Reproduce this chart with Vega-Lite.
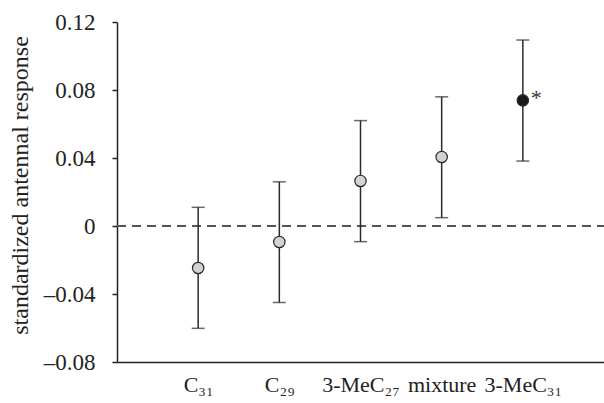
{
  "$schema": "https://vega.github.io/schema/vega-lite/v6.json",
  "width": 487,
  "height": 340,
  "autosize": {"type": "none"},
  "padding": {"left": 117, "top": 22, "right": 0, "bottom": 41},
  "background": "white",
  "config": {
    "view": {"stroke": null},
    "font": "Liberation Serif",
    "axis": {
      "labelFont": "Liberation Serif",
      "titleFont": "Liberation Serif",
      "labelColor": "#222",
      "titleColor": "#222",
      "domainColor": "#222",
      "tickColor": "#222",
      "domainWidth": 1.5,
      "tickWidth": 1.5,
      "grid": false
    }
  },
  "data": {
    "values": [
      {"compound": "C₃₁", "mean": -0.0247, "lower": -0.0602, "upper": 0.011, "sig": "", "highlight": "no"},
      {"compound": "C₂₉", "mean": -0.0094, "lower": -0.045, "upper": 0.026, "sig": "", "highlight": "no"},
      {"compound": "3-MeC₂₇", "mean": 0.0265, "lower": -0.0092, "upper": 0.062, "sig": "", "highlight": "no"},
      {"compound": "mixture", "mean": 0.0406, "lower": 0.0049, "upper": 0.076, "sig": "", "highlight": "no"},
      {"compound": "3-MeC₃₁", "mean": 0.0739, "lower": 0.0382, "upper": 0.1094, "sig": "*", "highlight": "yes"}
    ]
  },
  "encoding": {
    "x": {
      "field": "compound",
      "type": "nominal",
      "sort": null,
      "scale": {"type": "point", "padding": 1},
      "axis": {
        "title": null,
        "ticks": false,
        "labelAngle": 0,
        "labelFontSize": 22,
        "labelPadding": 12
      }
    }
  },
  "layer": [
    {
      "mark": {"type": "rule", "strokeDash": [9, 6], "color": "#555", "strokeWidth": 1.5},
      "encoding": {
        "x": {"value": 0},
        "x2": {"value": 487},
        "y": {"datum": 0, "type": "quantitative"}
      }
    },
    {
      "mark": {"type": "rule", "color": "#2a2a2a", "strokeWidth": 1.5},
      "encoding": {
        "y": {
          "field": "lower",
          "type": "quantitative",
          "scale": {"domain": [-0.08, 0.12], "nice": false, "zero": false},
          "axis": {
            "title": "standardized antennal response",
            "values": [-0.08, -0.04, 0, 0.04, 0.08, 0.12],
            "labelExpr": "datum.value == 0 ? '0' : replace(format(datum.value, '.2f'), '−', '–')",
            "labelFontSize": 23,
            "labelPadding": 17,
            "tickSize": 5,
            "titleFontSize": 24,
            "titleFontWeight": "normal",
            "titleAngle": -90,
            "titleAlign": "center",
            "titleBaseline": "middle",
            "titleX": -97,
            "titleY": 163
          }
        },
        "y2": {"field": "upper"}
      }
    },
    {
      "mark": {"type": "tick", "color": "#2a2a2a", "thickness": 1.5, "size": 13},
      "encoding": {"y": {"field": "upper", "type": "quantitative"}}
    },
    {
      "mark": {"type": "tick", "color": "#2a2a2a", "thickness": 1.5, "size": 13},
      "encoding": {"y": {"field": "lower", "type": "quantitative"}}
    },
    {
      "mark": {"type": "point", "shape": "circle", "filled": true, "size": 130, "stroke": "#2a2a2a", "strokeWidth": 1.2, "opacity": 1},
      "encoding": {
        "y": {"field": "mean", "type": "quantitative"},
        "fill": {
          "field": "highlight",
          "type": "nominal",
          "scale": {"domain": ["no", "yes"], "range": ["#d2d2d2", "#1a1a1a"]},
          "legend": null
        }
      }
    },
    {
      "mark": {"type": "text", "align": "left", "baseline": "middle", "dx": 8, "dy": -2, "fontSize": 22, "color": "#333"},
      "encoding": {
        "y": {"field": "mean", "type": "quantitative"},
        "text": {"field": "sig"}
      }
    }
  ]
}
